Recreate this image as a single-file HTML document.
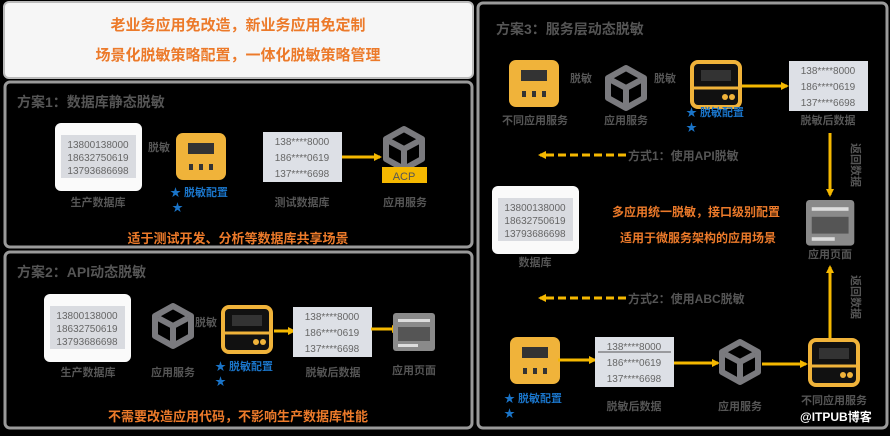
<!DOCTYPE html>
<html><head><meta charset="utf-8"><style>
body{margin:0;background:#000;width:890px;height:431px;overflow:hidden}
svg text{font-family:"Liberation Sans","Noto Sans CJK SC",sans-serif}
</style></head><body>
<svg width="890" height="431" viewBox="0 0 890 431" xmlns="http://www.w3.org/2000/svg">
<defs>
<marker id="ar" markerWidth="8" markerHeight="8" refX="6" refY="4" orient="auto" markerUnits="userSpaceOnUse"><path d="M0,0 L8,4 L0,8 Z" fill="#f5b800"/></marker>
<g id="cube"><path d="M21,2 L39,12 L39,32 L21,42 L3,32 L3,12 Z" fill="none" stroke="#7a7a7e" stroke-width="6" stroke-linejoin="round"/><path d="M6,14 L21,22 L36,14 M21,22 L21,40" fill="none" stroke="#7a7a7e" stroke-width="6"/></g>
<g id="dev"><rect x="0" y="0" width="50" height="47" rx="7" fill="#f0b33a"/><rect x="12" y="10" width="26" height="11" fill="#333"/><rect x="13" y="31" width="4" height="6" fill="#333"/><rect x="23" y="31" width="4" height="6" fill="#333"/><rect x="33" y="31" width="4" height="6" fill="#333"/></g>
<g id="odev"><rect x="2" y="2" width="48" height="45" rx="6" fill="#111" stroke="#f0b33a" stroke-width="4"/><rect x="11" y="10" width="30" height="11" fill="#333"/><line x1="2" y1="28" x2="50" y2="28" stroke="#f0b33a" stroke-width="3"/><circle cx="35" cy="37" r="3" fill="#f0b33a"/><circle cx="42" cy="37" r="3" fill="#f0b33a"/></g>
<g id="doc"><rect x="0" y="0" width="42" height="38" rx="3" fill="#8a8a8a"/><rect x="5" y="6" width="32" height="3" fill="#ddd"/><rect x="5" y="14" width="32" height="14" fill="#555"/><rect x="5" y="31" width="20" height="3" fill="#ddd"/></g>
<g id="db"><rect x="0" y="0" width="87" height="68" rx="6" fill="#fafafa"/><rect x="6" y="12" width="75" height="43" fill="#d9dbe0"/><text x="43" y="25" font-size="10" fill="#666" text-anchor="middle">13800138000</text><text x="43" y="38" font-size="10" fill="#666" text-anchor="middle">18632750619</text><text x="43" y="51" font-size="10" fill="#666" text-anchor="middle">13793686698</text></g>
<g id="mask"><rect x="0" y="0" width="79" height="50" fill="#dde0e6"/><text x="39" y="13" font-size="10" fill="#666" text-anchor="middle">138****8000</text><text x="39" y="29" font-size="10" fill="#666" text-anchor="middle">186****0619</text><text x="39" y="45" font-size="10" fill="#666" text-anchor="middle">137****6698</text></g>
</defs>

<!-- banner -->
<rect x="4" y="2" width="469" height="76" rx="5" fill="#f6f6f6" stroke="#bbb" stroke-width="2"/>
<text x="238" y="30" font-size="15" font-weight="bold" fill="#ec7a2a" text-anchor="middle">老业务应用免改造，新业务应用免定制</text>
<text x="238" y="60" font-size="15" font-weight="bold" fill="#ec7a2a" text-anchor="middle">场景化脱敏策略配置，一体化脱敏策略管理</text>

<!-- panel 1 -->
<rect x="5" y="82" width="467" height="165" rx="5" fill="#000" stroke="#9a9a9a" stroke-width="3"/>
<text x="17" y="107" font-size="14" font-weight="bold" fill="#555">方案1：数据库静态脱敏</text>
<use href="#db" x="55" y="123"/>
<text x="98" y="206" font-size="11" font-weight="bold" fill="#555" text-anchor="middle">生产数据库</text>
<text x="148" y="151" font-size="11" font-weight="bold" fill="#555">脱敏</text>
<use href="#dev" x="176" y="133"/>
<text x="170" y="196" font-size="11" font-weight="bold" fill="#1a74c8">★ 脱敏配置</text>
<text x="172" y="211" font-size="11" fill="#1a74c8">★</text>
<use href="#mask" x="263" y="132"/>
<text x="302" y="206" font-size="11" font-weight="bold" fill="#555" text-anchor="middle">测试数据库</text>
<line x1="342" y1="157" x2="380" y2="157" stroke="#f5b800" stroke-width="3" marker-end="url(#ar)"/>
<use href="#cube" x="383" y="127"/>
<rect x="382" y="167" width="45" height="16" fill="#f5b800"/>
<text x="404" y="180" font-size="11" fill="#555" text-anchor="middle">ACP</text>
<text x="405" y="206" font-size="11" font-weight="bold" fill="#555" text-anchor="middle">应用服务</text>
<text x="238" y="243" font-size="13" font-weight="bold" fill="#ec7a2a" text-anchor="middle">适于测试开发、分析等数据库共享场景</text>

<!-- panel 2 -->
<rect x="5" y="252" width="467" height="176" rx="5" fill="#000" stroke="#9a9a9a" stroke-width="3"/>
<text x="17" y="277" font-size="14" font-weight="bold" fill="#555">方案2：API动态脱敏</text>
<use href="#db" x="44" y="294"/>
<text x="88" y="376" font-size="11" font-weight="bold" fill="#555" text-anchor="middle">生产数据库</text>
<use href="#cube" x="152" y="304"/>
<text x="173" y="376" font-size="11" font-weight="bold" fill="#555" text-anchor="middle">应用服务</text>
<text x="195" y="326" font-size="11" font-weight="bold" fill="#555">脱敏</text>
<use href="#odev" x="221" y="305"/>
<text x="215" y="370" font-size="11" font-weight="bold" fill="#1a74c8">★ 脱敏配置</text>
<text x="215" y="385" font-size="11" fill="#1a74c8">★</text>
<line x1="274" y1="331" x2="294" y2="331" stroke="#f5b800" stroke-width="3" marker-end="url(#ar)"/>
<use href="#mask" x="293" y="307"/>
<text x="333" y="376" font-size="11" font-weight="bold" fill="#555" text-anchor="middle">脱敏后数据</text>
<line x1="371" y1="329" x2="398" y2="329" stroke="#f5b800" stroke-width="3" marker-end="url(#ar)"/>
<use href="#doc" x="393" y="313"/>
<text x="414" y="374" font-size="11" font-weight="bold" fill="#555" text-anchor="middle">应用页面</text>
<text x="238" y="421" font-size="13" font-weight="bold" fill="#ec7a2a" text-anchor="middle">不需要改造应用代码，不影响生产数据库性能</text>

<!-- panel 3 -->
<rect x="478" y="3" width="409" height="425" rx="5" fill="#000" stroke="#9a9a9a" stroke-width="3"/>
<text x="496" y="34" font-size="14" font-weight="bold" fill="#555">方案3：服务层动态脱敏</text>
<use href="#dev" x="509" y="60"/>
<text x="535" y="124" font-size="11" font-weight="bold" fill="#555" text-anchor="middle">不同应用服务</text>
<text x="570" y="82" font-size="11" font-weight="bold" fill="#555">脱敏</text>
<use href="#cube" x="605" y="66"/>
<text x="626" y="124" font-size="11" font-weight="bold" fill="#555" text-anchor="middle">应用服务</text>
<text x="654" y="82" font-size="11" font-weight="bold" fill="#555">脱敏</text>
<use href="#odev" x="690" y="60"/>
<text x="686" y="116" font-size="11" font-weight="bold" fill="#1a74c8">★ 脱敏配置</text>
<text x="686" y="131" font-size="11" fill="#1a74c8">★</text>
<line x1="742" y1="86" x2="787" y2="86" stroke="#f5b800" stroke-width="3" marker-end="url(#ar)"/>
<use href="#mask" x="789" y="61"/>
<text x="828" y="124" font-size="11" font-weight="bold" fill="#555" text-anchor="middle">脱敏后数据</text>
<line x1="830" y1="133" x2="830" y2="195" stroke="#f5b800" stroke-width="3" marker-end="url(#ar)"/>
<text x="0" y="0" font-size="11" font-weight="bold" fill="#555" transform="translate(852,143) rotate(90)">返回数据</text>
<line x1="626" y1="155" x2="540" y2="155" stroke="#f5b800" stroke-width="3" stroke-dasharray="8,4" marker-end="url(#ar)"/>
<text x="628" y="160" font-size="12" font-weight="bold" fill="#555">方式1：使用API脱敏</text>
<use href="#db" x="492" y="186"/>
<text x="535" y="266" font-size="11" font-weight="bold" fill="#555" text-anchor="middle">数据库</text>
<text x="612" y="216" font-size="12" font-weight="bold" fill="#ec7a2a">多应用统一脱敏，接口级别配置</text>
<text x="620" y="242" font-size="12" font-weight="bold" fill="#ec7a2a">适用于微服务架构的应用场景</text>
<g transform="translate(806,200) scale(1.15,1.2)"><use href="#doc"/></g>
<text x="830" y="258" font-size="11" font-weight="bold" fill="#555" text-anchor="middle">应用页面</text>
<line x1="830" y1="340" x2="830" y2="267" stroke="#f5b800" stroke-width="3" marker-end="url(#ar)"/>
<text x="0" y="0" font-size="11" font-weight="bold" fill="#555" transform="translate(852,275) rotate(90)">返回数据</text>
<line x1="626" y1="298" x2="540" y2="298" stroke="#f5b800" stroke-width="3" stroke-dasharray="8,4" marker-end="url(#ar)"/>
<text x="628" y="303" font-size="12" font-weight="bold" fill="#555">方式2：使用ABC脱敏</text>
<use href="#dev" x="510" y="337"/>
<text x="504" y="402" font-size="11" font-weight="bold" fill="#1a74c8">★ 脱敏配置</text>
<text x="504" y="417" font-size="11" fill="#1a74c8">★</text>
<line x1="558" y1="360" x2="595" y2="360" stroke="#f5b800" stroke-width="3" marker-end="url(#ar)"/>
<use href="#mask" x="595" y="337"/>
<line x1="598" y1="352" x2="671" y2="352" stroke="#555" stroke-width="1"/>
<text x="634" y="410" font-size="11" font-weight="bold" fill="#555" text-anchor="middle">脱敏后数据</text>
<line x1="674" y1="363" x2="718" y2="363" stroke="#f5b800" stroke-width="3" marker-end="url(#ar)"/>
<use href="#cube" x="719" y="340"/>
<text x="740" y="410" font-size="11" font-weight="bold" fill="#555" text-anchor="middle">应用服务</text>
<line x1="762" y1="364" x2="806" y2="364" stroke="#f5b800" stroke-width="3" marker-end="url(#ar)"/>
<use href="#odev" x="808" y="338"/>
<text x="834" y="404" font-size="11" font-weight="bold" fill="#555" text-anchor="middle">不同应用服务</text>
<text x="800" y="421" font-size="12" font-weight="bold" fill="#fff">@ITPUB博客</text>
</svg>
</body></html>
